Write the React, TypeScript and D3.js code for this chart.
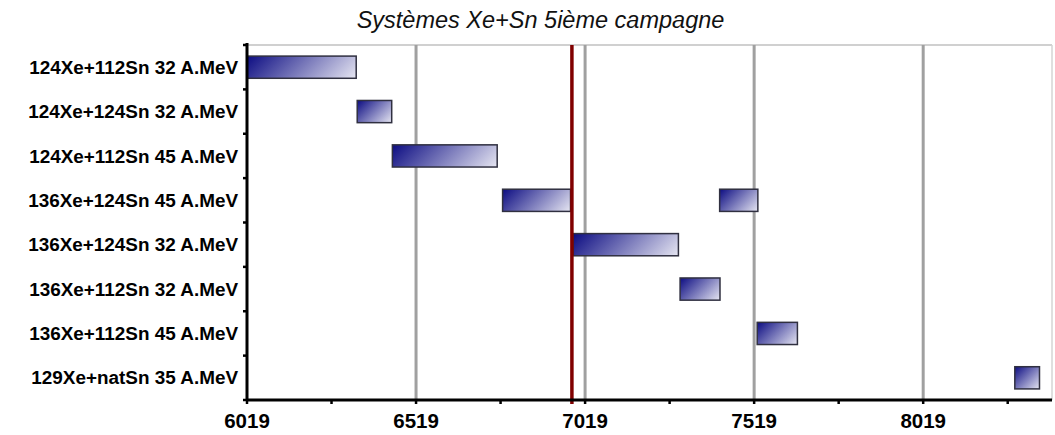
import React from "react";
import * as d3 from "d3";

const title = "Systèmes Xe+Sn 5ième campagne";
const categories = [
  "124Xe+112Sn 32 A.MeV",
  "124Xe+124Sn 32 A.MeV",
  "124Xe+112Sn 45 A.MeV",
  "136Xe+124Sn 45 A.MeV",
  "136Xe+124Sn 32 A.MeV",
  "136Xe+112Sn 32 A.MeV",
  "136Xe+112Sn 45 A.MeV",
  "129Xe+natSn 35 A.MeV",
];
// each run: category index, start, end
const runCategory = [0, 1, 2, 3, 3, 4, 5, 6, 7];
const runStart = [6019, 6345, 6449, 6775, 7417, 6984, 7300, 7528, 8290];
const runEnd = [6342, 6447, 6759, 6976, 7530, 7295, 7418, 7647, 8363];
const majorTicks = [6019, 6519, 7019, 7519, 8019];
const minorTicks = [6269, 6769, 7269, 7769, 8269];
const xDomain = [6019, 8400];
const markerValue = 6980;

export default function App() {
  const W = 1055, H = 435;
  const left = 247, right = 1052, top = 45, bottom = 400;
  const x = d3.scaleLinear().domain(xDomain).range([left, right]);
  const y = d3.scaleBand<string>().domain(categories).range([top, bottom]).paddingInner(0.5).paddingOuter(0.25);
  const band = d3.scaleBand<string>().domain(categories).range([top, bottom]);
  const font = "'Liberation Sans', Arial, sans-serif";

  return (
    <svg width={W} height={H} style={{ position: "absolute", left: 0, top: 0, background: "#fff" }}>
      <defs>
        {runStart.map((s, i) => {
          const x0 = x(s), x1 = x(runEnd[i]);
          const y0 = y(categories[runCategory[i]])!;
          const h = y.bandwidth();
          const t = (x1 - x0 + h) / 2;
          return (
            <linearGradient key={i} id={`g${i}`} gradientUnits="userSpaceOnUse" x1={x0} y1={y0} x2={x0 + t} y2={y0 + t}>
              <stop offset="0" stopColor="#0c0c82" />
              <stop offset="1" stopColor="#e6e6f2" />
            </linearGradient>
          );
        })}
      </defs>
      <text x={540.5} y={28} textAnchor="middle" fontFamily={font} fontStyle="italic" fontSize={23.5} fill="#111">
        {title}
      </text>
      {/* frame */}
      <line x1={left} x2={right} y1={top} y2={top} stroke="#c0c0c0" strokeWidth={1.5} />
      <line x1={right} x2={right} y1={top} y2={bottom} stroke="#d4d4d4" strokeWidth={1.5} />
      {/* grid */}
      {majorTicks.slice(1).map((t) => (
        <line key={t} x1={x(t)} x2={x(t)} y1={top} y2={bottom} stroke="#a0a0a0" strokeWidth={3} />
      ))}
      {/* bars */}
      {runStart.map((s, i) => (
        <rect key={i} x={x(s)} y={y(categories[runCategory[i]])} width={x(runEnd[i]) - x(s)} height={y.bandwidth()}
          fill={`url(#g${i})`} stroke="#303040" strokeWidth={1.5} />
      ))}
      {/* marker */}
      <line x1={x(markerValue)} x2={x(markerValue)} y1={top} y2={bottom + 4} stroke="#800000" strokeWidth={3.5} />
      {/* axes */}
      <line x1={left} x2={right} y1={bottom} y2={bottom} stroke="#000" strokeWidth={3} />
      <line x1={left} x2={left} y1={top - 2} y2={bottom + 1} stroke="#000" strokeWidth={3} />
      {majorTicks.concat(minorTicks).map((t) => (
        <line key={"t" + t} x1={x(t)} x2={x(t)} y1={bottom} y2={bottom + 4} stroke="#000" strokeWidth={2.5} />
      ))}
      {categories.concat(["end"]).map((c, i) => {
        const yy = i < categories.length ? band(c)! : bottom;
        return <line key={"yt" + i} x1={left - 4} x2={left} y1={yy} y2={yy} stroke="#000" strokeWidth={2.5} />;
      })}
      {majorTicks.map((t) => (
        <text key={"l" + t} x={x(t)} y={428} textAnchor="middle" fontFamily={font} fontWeight="bold" fontSize={20.5} fill="#000">
          {t}
        </text>
      ))}
      {categories.map((c) => (
        <text key={c} x={238} y={band(c)! + band.bandwidth() / 2} dy="0.35em" textAnchor="end" fontFamily={font}
          fontWeight="bold" fontSize={18.9} fill="#000">
          {c}
        </text>
      ))}
    </svg>
  );
}
